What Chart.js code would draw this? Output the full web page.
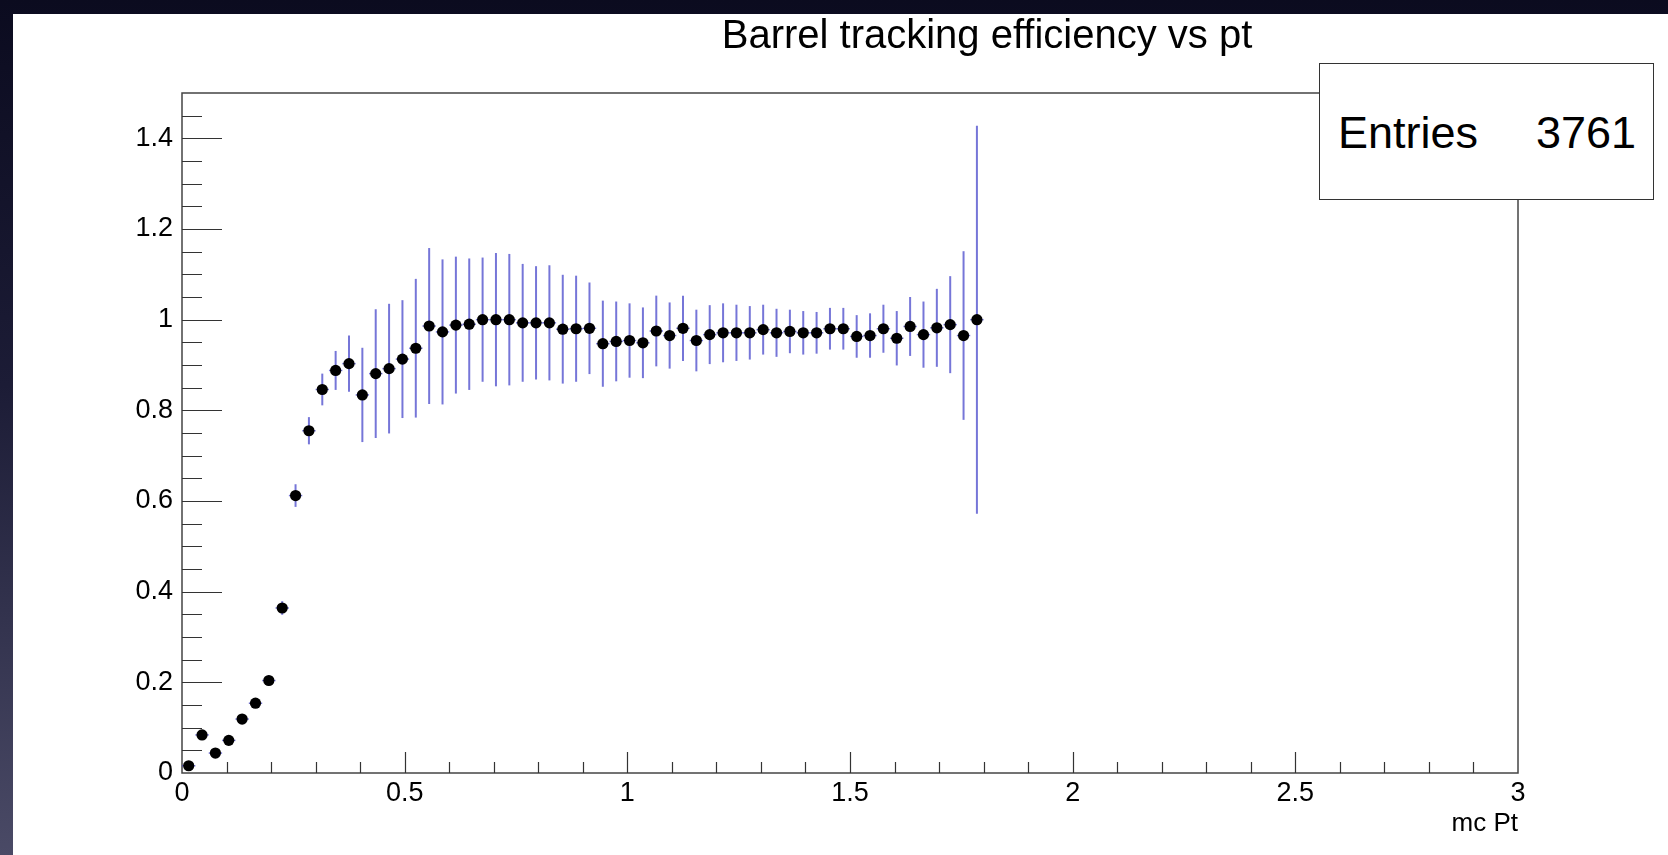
<!DOCTYPE html>
<html>
<head>
<meta charset="utf-8">
<title>Barrel tracking efficiency vs pt</title>
<script src="https://cdn.jsdelivr.net/npm/chart.js@4.4.1/dist/chart.umd.min.js"></script>
<style>
  html, body { margin: 0; padding: 0; }
  body {
    width: 1668px; height: 855px; overflow: hidden; position: relative;
    background: linear-gradient(to bottom, #0b0b1f 0%, #1c1c36 45%, #4a4a66 100%);
    font-family: "Liberation Sans", Arial, sans-serif;
  }
  #paper { position: absolute; left: 13px; top: 14px; right: 0; bottom: 0; background: #fff; }
  #wrap { position: absolute; left: 0; top: 0; width: 1668px; height: 855px; }
  #title {
    position: absolute; top: 14px; left: 987px; transform: translateX(-50%);
    font-size: 40px; line-height: 40px; white-space: nowrap; color: #000;
  }
  #stats {
    position: absolute; left: 1319px; top: 63px; width: 333px; height: 135px;
    background: #fff; border: 1px solid #333; color: #000;
  }
  #stats span { position: absolute; top: 46px; font-size: 45px; line-height: 45px; }
  #stats .name { left: 18px; }
  #stats .val { right: 17px; }
</style>
</head>
<body>
<div id="paper"></div>
<div id="wrap"><canvas id="chart"></canvas></div>
<div id="title">Barrel tracking efficiency vs pt</div>
<div id="stats"><span class="name">Entries</span><span class="val">3761</span></div>
<script>
// bin centres of the histogram (mc Pt)
const ptCenters = [
  0.015, 0.045, 0.075, 0.105, 0.135, 0.165, 0.195, 0.225, 0.255, 0.285,
  0.315, 0.345, 0.375, 0.405, 0.435, 0.465, 0.495, 0.525, 0.555, 0.585,
  0.615, 0.645, 0.675, 0.705, 0.735, 0.765, 0.795, 0.825, 0.855, 0.885,
  0.915, 0.945, 0.975, 1.005, 1.035, 1.065, 1.095, 1.125, 1.155, 1.185,
  1.215, 1.245, 1.275, 1.305, 1.335, 1.365, 1.395, 1.425, 1.455, 1.485,
  1.515, 1.545, 1.575, 1.605, 1.635, 1.665, 1.695, 1.725, 1.755, 1.785
];
const binWidth = 0.03;

const efficiency = [
  0.016, 0.084, 0.044, 0.072, 0.119, 0.154, 0.204, 0.364, 0.612, 0.755,
  0.846, 0.888, 0.903, 0.834, 0.881, 0.892, 0.913, 0.937, 0.986, 0.973,
  0.988, 0.990, 1.000, 1.000, 1.000, 0.993, 0.993, 0.993, 0.979, 0.980,
  0.981, 0.947, 0.952, 0.954, 0.949, 0.975, 0.965, 0.981, 0.954, 0.967,
  0.971, 0.971, 0.971, 0.978, 0.971, 0.974, 0.971, 0.971, 0.980, 0.980,
  0.963, 0.965, 0.980, 0.959, 0.985, 0.967, 0.982, 0.989, 0.965, 1.000
];

const effError = [
  0.006, 0.008, 0.007, 0.008, 0.009, 0.010, 0.011, 0.015, 0.025, 0.030,
  0.035, 0.043, 0.062, 0.104, 0.142, 0.143, 0.130, 0.153, 0.172, 0.160,
  0.151, 0.145, 0.137, 0.147, 0.145, 0.130, 0.125, 0.127, 0.120, 0.117,
  0.101, 0.095, 0.088, 0.082, 0.078, 0.078, 0.073, 0.072, 0.068, 0.065,
  0.065, 0.062, 0.059, 0.055, 0.053, 0.048, 0.048, 0.046, 0.046, 0.046,
  0.047, 0.049, 0.053, 0.060, 0.065, 0.073, 0.086, 0.107, 0.186, 0.428
];

const xTicks = [0, 0.5, 1, 1.5, 2, 2.5, 3];
const yTicks = [0, 0.2, 0.4, 0.6, 0.8, 1, 1.2, 1.4];

const FONT = '"Liberation Sans", Arial, sans-serif';

// vertical + horizontal error bars, drawn through the chart scales
const errorBars = {
  id: 'errorBars',
  beforeDatasetsDraw(chart) {
    const { ctx, scales: { x, y } } = chart;
    ctx.save();
    ctx.strokeStyle = 'rgba(60, 60, 200, 0.7)';
    ptCenters.forEach((pt, i) => {
      const px = x.getPixelForValue(pt);
      const py = y.getPixelForValue(efficiency[i]);
      ctx.lineWidth = 2;
      ctx.beginPath();
      ctx.moveTo(px, y.getPixelForValue(efficiency[i] - effError[i]));
      ctx.lineTo(px, y.getPixelForValue(efficiency[i] + effError[i]));
      ctx.stroke();
      ctx.lineWidth = 1.5;
      ctx.beginPath();
      ctx.moveTo(x.getPixelForValue(pt - binWidth / 2), py);
      ctx.lineTo(x.getPixelForValue(pt + binWidth / 2), py);
      ctx.stroke();
    });
    ctx.restore();
  }
};

// ROOT style frame with inward major/minor ticks
const rootFrame = {
  id: 'rootFrame',
  beforeDatasetsDraw(chart) {
    const { ctx, chartArea: a, scales: { x, y } } = chart;
    ctx.save();
    ctx.strokeStyle = '#444';
    ctx.lineWidth = 1.5;
    ctx.strokeRect(a.left, a.top, a.right - a.left, a.bottom - a.top);
    ctx.lineWidth = 1.2;
    ctx.strokeStyle = '#333';
    ctx.beginPath();
    for (let i = 1; i < 30; i++) {
      const px = Math.round(x.getPixelForValue(i / 10)) + 0.5;
      const len = i % 5 === 0 ? 21 : 11;
      ctx.moveTo(px, a.bottom);
      ctx.lineTo(px, a.bottom - len);
    }
    for (let i = 1; i < 30; i++) {
      const py = Math.round(y.getPixelForValue(i * 0.05)) + 0.5;
      const len = i % 4 === 0 ? 40 : 20;
      ctx.moveTo(a.left, py);
      ctx.lineTo(a.left + len, py);
    }
    ctx.stroke();
    ctx.restore();
  }
};

const points = ptCenters.map((pt, i) => ({ x: pt, y: efficiency[i] }));

new Chart(document.getElementById('chart'), {
  type: 'scatter',
  data: {
    datasets: [{
      label: 'efficiency',
      data: points,
      pointRadius: 5.6,
      pointBackgroundColor: '#000',
      pointBorderWidth: 0,
      showLine: false
    }]
  },
  options: {
    responsive: true,
    maintainAspectRatio: false,
    animation: false,
    layout: { padding: { left: 0, top: 93, right: 150, bottom: 0 } },
    plugins: {
      legend: { display: false },
      tooltip: { enabled: false }
    },
    scales: {
      x: {
        type: 'linear', min: 0, max: 3,
        afterBuildTicks: (s) => { s.ticks = xTicks.map(v => ({ value: v })); },
        afterFit: (s) => { s.height = 82; },
        grid: { display: false, drawTicks: false },
        border: { display: false },
        ticks: {
          color: '#000', padding: 4, maxRotation: 0, autoSkip: false,
          font: { family: FONT, size: 27 },
          callback: (v) => String(v)
        },
        title: {
          display: true, text: 'mc Pt', align: 'end', color: '#000',
          font: { family: FONT, size: 26 },
          padding: { top: 0, bottom: 16 }
        }
      },
      y: {
        min: 0, max: 1.5,
        afterBuildTicks: (s) => { s.ticks = yTicks.map(v => ({ value: v })); },
        afterFit: (s) => { s.width = 182; },
        grid: { display: false, drawTicks: false },
        border: { display: false },
        ticks: {
          color: '#000', padding: 9, autoSkip: false,
          font: { family: FONT, size: 27 },
          callback: (v) => String(v)
        }
      }
    }
  },
  plugins: [rootFrame, errorBars]
});
</script>
</body>
</html>
